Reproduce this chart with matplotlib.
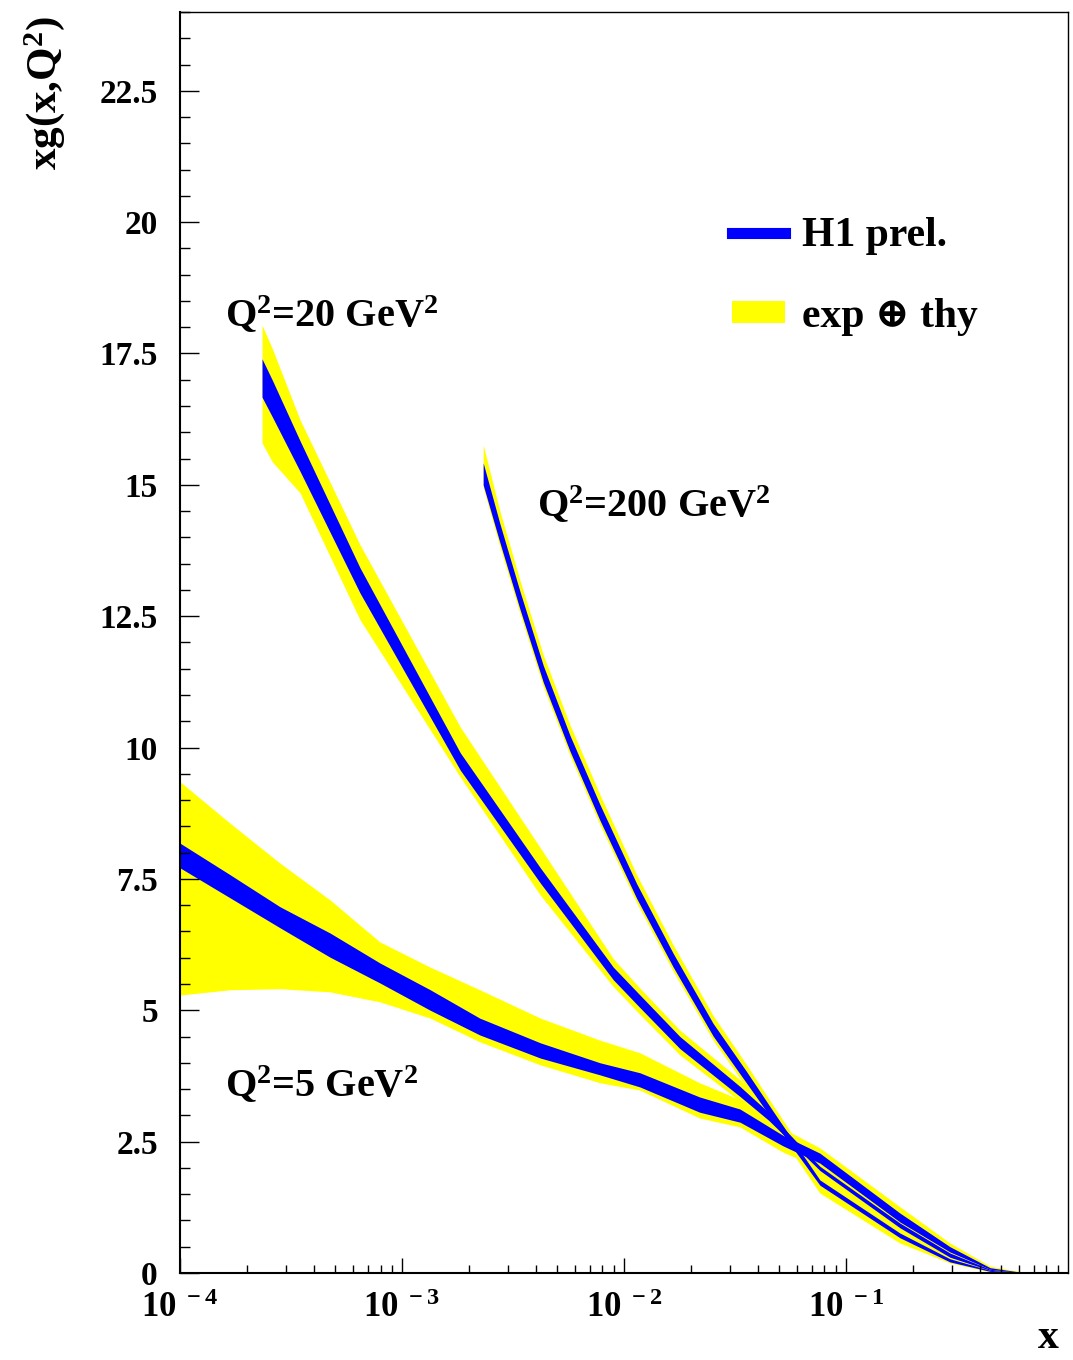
import numpy as np
import matplotlib
matplotlib.use("Agg")
from matplotlib import pyplot as plt
from matplotlib.lines import Line2D
from matplotlib.patches import Patch
from matplotlib.ticker import FixedLocator, FixedFormatter, LogLocator, NullFormatter

plt.rcParams['font.family'] = ['Liberation Serif', 'DejaVu Serif']
plt.rcParams['font.weight'] = 'bold'
plt.rcParams['mathtext.fontset'] = 'custom'
plt.rcParams['mathtext.rm'] = 'Liberation Serif:bold'
plt.rcParams['mathtext.it'] = 'Liberation Serif:bold'
plt.rcParams['mathtext.bf'] = 'Liberation Serif:bold'

BLUE = "#0000ff"
YELLOW = "#ffff00"

# Q2 = 5 GeV2
x5 = [1e-4, 1.68e-4, 2.82e-4, 4.74e-4, 7.95e-4, 1.34e-3, 2.24e-3, 4.2e-3, 7.8e-3,
      0.0118, 0.0219, 0.0333, 0.052, 0.0763, 0.175, 0.294, 0.446, 0.6, 0.7]
y5_yhi = [9.35, 8.56, 7.80, 7.10, 6.30, 5.82, 5.39, 4.85, 4.43,
          4.19, 3.62, 3.30, 2.75, 2.38, 1.26, 0.57, 0.13, 0.03, 0.0]
y5_bhi = [8.18, 7.58, 6.97, 6.47, 5.90, 5.39, 4.85, 4.38, 4.00,
          3.81, 3.35, 3.12, 2.62, 2.28, 1.14, 0.50, 0.10, 0.02, 0.0]
y5_blo = [7.71, 7.14, 6.57, 6.01, 5.52, 5.00, 4.53, 4.09, 3.77,
          3.54, 3.06, 2.87, 2.42, 2.09, 0.97, 0.40, 0.07, 0.01, 0.0]
y5_ylo = [5.29, 5.39, 5.41, 5.35, 5.16, 4.85, 4.40, 3.96, 3.62,
          3.48, 2.95, 2.78, 2.30, 2.00, 0.90, 0.36, 0.05, 0.0, 0.0]

# Q2 = 20 GeV2
x20 = [2.34e-4, 2.6e-4, 3.47e-4, 6.47e-4, 1.83e-3, 4.2e-3, 8.95e-3, 0.0118, 0.01786,
       0.0333, 0.045, 0.0763, 0.175, 0.294, 0.446, 0.6, 0.7]
y20_yhi = [18.04, 17.60, 16.24, 13.86, 10.39, 8.09, 5.98, 5.42, 4.62,
           3.68, 3.10, 2.10, 0.99, 0.42, 0.09, 0.02, 0.0]
y20_bhi = [17.40, 17.00, 15.84, 13.42, 9.90, 7.71, 5.82, 5.29, 4.50,
           3.55, 3.05, 2.03, 0.95, 0.38, 0.07, 0.01, 0.0]
y20_blo = [16.67, 16.30, 15.26, 12.94, 9.57, 7.42, 5.58, 5.05, 4.27,
           3.36, 2.90, 1.95, 0.86, 0.30, 0.05, 0.005, 0.0]
y20_ylo = [15.80, 15.44, 14.85, 12.43, 9.44, 7.19, 5.45, 4.92, 4.15,
           3.27, 2.85, 1.85, 0.80, 0.27, 0.04, 0.0, 0.0]

# Q2 = 200 GeV2
x200 = [2.32e-3, 2.76e-3, 3.4e-3, 4.33e-3, 5.71e-3, 7.8e-3, 0.0114, 0.01667, 0.0252,
        0.0357, 0.0471, 0.0763, 0.175, 0.294, 0.446, 0.6, 0.7]
y200_yhi = [15.76, 14.50, 13.18, 11.76, 10.43, 9.10, 7.58, 6.24, 4.90,
            3.96, 3.18, 1.85, 0.80, 0.30, 0.06, 0.01, 0.0]
y200_bhi = [15.42, 14.26, 12.97, 11.56, 10.23, 8.91, 7.41, 6.08, 4.75,
            3.83, 3.07, 1.77, 0.76, 0.27, 0.05, 0.0, 0.0]
y200_blo = [15.00, 13.90, 12.63, 11.24, 9.93, 8.61, 7.13, 5.82, 4.51,
            3.61, 2.89, 1.67, 0.67, 0.21, 0.03, 0.0, 0.0]
y200_ylo = [14.95, 13.82, 12.55, 11.16, 9.85, 8.53, 7.05, 5.74, 4.43,
            3.53, 2.82, 1.52, 0.57, 0.19, 0.02, 0.0, 0.0]

bands = [
    (x200, y200_yhi, y200_bhi, y200_blo, y200_ylo),
    (x20, y20_yhi, y20_bhi, y20_blo, y20_ylo),
    (x5, y5_yhi, y5_bhi, y5_blo, y5_ylo),
]

yticks = [0, 2.5, 5, 7.5, 10, 12.5, 15, 17.5, 20, 22.5]
ytick_labels = ["0", "2.5", "5", "7.5", "10", "12.5", "15", "17.5", "20", "22.5"]
xticks = [1e-4, 1e-3, 1e-2, 1e-1]
xtick_labels = [r"$10^{\ -4}$", r"$10^{\ -3}$", r"$10^{\ -2}$", r"$10^{\ -1}$"]

fig = plt.figure(figsize=(10.73, 13.6), dpi=100)
ax = fig.add_axes([0.1678, 0.064, 0.8275, 0.9272])

for xb, yhi, bhi, blo, ylo in bands:
    ax.fill_between(xb, ylo, yhi, color=YELLOW, lw=0)
for xb, yhi, bhi, blo, ylo in bands:
    ax.fill_between(xb, blo, bhi, color=BLUE, lw=0)

ax.set_xscale("log")
ax.set_xlim(1e-4, 1.0)
ax.set_ylim(0, 24)

ax.yaxis.set_major_locator(FixedLocator(yticks))
ax.yaxis.set_major_formatter(FixedFormatter(ytick_labels))
ax.yaxis.set_minor_locator(FixedLocator(np.arange(0, 24.01, 0.5)))
ax.xaxis.set_major_locator(FixedLocator(xticks))
ax.xaxis.set_major_formatter(FixedFormatter(xtick_labels))
ax.xaxis.set_minor_locator(LogLocator(base=10, subs=np.arange(2, 10)))
ax.xaxis.set_minor_formatter(NullFormatter())

ax.tick_params(axis="y", which="major", direction="in", length=14, width=1, pad=16,
               labelsize=24, left=True, right=False)
ax.tick_params(axis="y", which="minor", direction="in", length=7, width=1,
               left=True, right=False)
ax.tick_params(axis="x", which="major", direction="in", length=11, width=1, pad=14,
               labelsize=25, bottom=True, top=False)
ax.tick_params(axis="x", which="minor", direction="in", length=5.5, width=1,
               bottom=True, top=False)
for lab in ax.get_yticklabels() + ax.get_xticklabels():
    lab.set_fontweight("bold")
for sp in ax.spines.values():
    sp.set_linewidth(1.0)
ax.spines["left"].set_linewidth(1.5)
ax.spines["bottom"].set_linewidth(1.5)

fig.text(45 / 1073, 1 - 93 / 1360, r"xg(x,Q$^{2}$)", rotation=90, fontsize=31,
         fontweight="bold", ha="center", va="center")
fig.text(1048 / 1073, 1 - 1338 / 1360, "x", fontsize=30, fontweight="bold",
         ha="center", va="center")

ax.text(1.6e-4, 18.0, r"Q$^{2}$=20 GeV$^{2}$", fontsize=29, fontweight="bold",
        ha="left", va="baseline")
ax.text(4.06e-3, 14.39, r"Q$^{2}$=200 GeV$^{2}$", fontsize=29, fontweight="bold",
        ha="left", va="baseline")
ax.text(1.6e-4, 3.35, r"Q$^{2}$=5 GeV$^{2}$", fontsize=29, fontweight="bold",
        ha="left", va="baseline")

handles = [Line2D([0], [0], color=BLUE, lw=8),
           Patch(facecolor=YELLOW, edgecolor="none")]
ax.legend(handles, ["H1 prel.", "exp \u2295 thy"], loc="upper left",
          bbox_to_anchor=(0.579, 0.867), frameon=False,
          handlelength=1.27, handleheight=0.46, handletextpad=0.43, labelspacing=1.02,
          prop={"family": ["Liberation Serif", "DejaVu Serif"], "weight": "bold", "size": 30})

fig.savefig("out.png", dpi=100)
